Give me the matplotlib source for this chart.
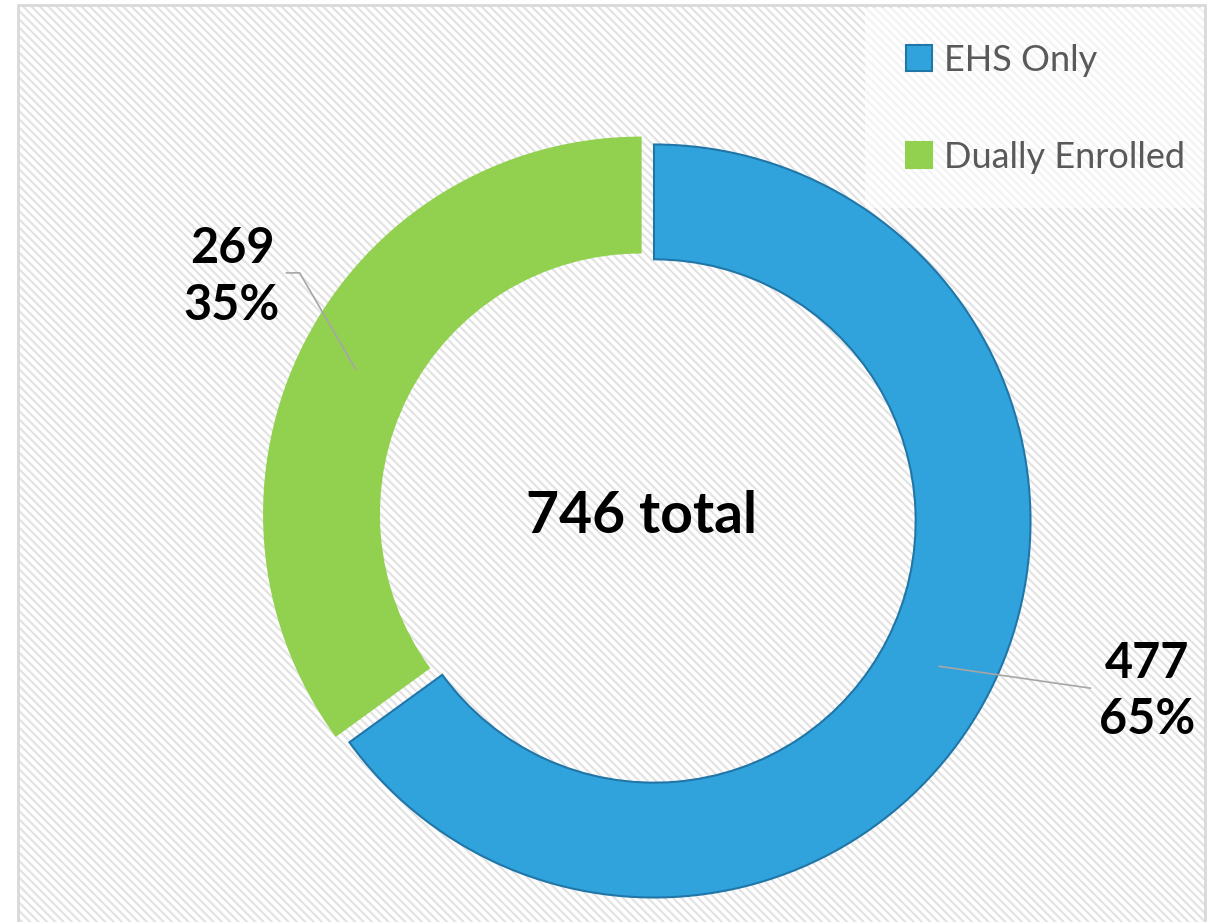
import numpy as np
import matplotlib
matplotlib.use("Agg")
import matplotlib.pyplot as plt
from matplotlib.patches import Rectangle, Patch

labels = ["EHS Only", "Dually Enrolled"]
counts = [477, 269]
shares = [65, 35]
colors = ["#31A3DC", "#92D050"]
edges = ["#2176A8", "#92D050"]

plt.rcParams["font.family"] = ["Lato", "DejaVu Sans"]
plt.rcParams["hatch.linewidth"] = 1.6

fig = plt.figure(figsize=(12.09, 9.22), dpi=100)

# hatched chart area background
W, H = 1209, 922
bg = Rectangle((18 / W, 0), (1205 - 18) / W, (922 - 5) / H, transform=fig.transFigure,
               facecolor="white", edgecolor="#e3e3e3", hatch="\\\\\\\\", linewidth=0, zorder=-3)
fig.patches.append(bg)
border = Rectangle((18 / W, -0.01), (1205 - 18) / W, (922 - 5) / H + 0.01, transform=fig.transFigure,
                   fill=False, edgecolor="#d9d9d9", linewidth=2, zorder=-1)
fig.patches.append(border)
# legend box (lighter area behind the legend)
legbox = Rectangle((865 / W, 1 - 208 / H), (1205 - 865) / W, 200 / H, transform=fig.transFigure,
                   facecolor="white", alpha=0.6, linewidth=0, zorder=-2)
fig.patches.append(legbox)

# donut centre at about (654, 521) px, radius 376 px
R = 376.5
L = 1.1 * R
ax = fig.add_axes([(654 - L) / W, (H - 521 - L) / H, 2 * L / W, 2 * L / H])

explode = [0.0, 0.04]
wedges, _ = ax.pie(shares, colors=colors, startangle=90, counterclock=False,
                   explode=explode, radius=1.0,
                   wedgeprops=dict(width=0.305, linewidth=1.5))
for w, ec in zip(wedges, edges):
    w.set_edgecolor(ec)
ax.set_xlim(-1.1, 1.1)
ax.set_ylim(-1.1, 1.1)
ax.set_aspect("equal")
ax.axis("off")

# leader lines and labels
label_pos = [(1.309, -0.452), (-1.121, 0.648)]
for w, ex, n, p, (lx, ly) in zip(wedges, explode, counts, shares, label_pos):
    ang = np.deg2rad((w.theta1 + w.theta2) / 2)
    ox, oy = ex * np.cos(ang), ex * np.sin(ang)
    ax0, ay0 = ox + 0.85 * np.cos(ang), oy + 0.85 * np.sin(ang)
    if lx > 0:
        xs, ys = [ax0, lx - 0.15], [ay0, ly + 0.008]
    else:
        xs, ys = [ax0, lx + 0.18, lx + 0.145], [ay0, ly + 0.011, ly + 0.011]
    ax.plot(xs, ys, color="#a6a6a6", linewidth=1.2, clip_on=False)
    ax.text(lx, ly, f"{n}\n{p}%", ha="center", va="center", fontsize=35,
            fontweight="bold", linespacing=1.3, clip_on=False)

ax.text(-0.032, 0.011, f"{sum(counts)} total", ha="center", va="center",
        fontsize=41, fontweight="bold")

handles = [Patch(facecolor=c, edgecolor=e, linewidth=1.5) for c, e in zip(colors, edges)]
leg = fig.legend(handles, labels, loc="upper right", bbox_to_anchor=(1205 / W, 1 - 24 / H),
                 fontsize=26, frameon=False, labelspacing=1.77,
                 handlelength=0.72, handleheight=0.72, handletextpad=0.35,
                 borderpad=0.55, borderaxespad=0)
leg.set_zorder(-1)
for t in leg.get_texts():
    t.set_color("#595959")

fig.savefig("out.png", dpi=100)
